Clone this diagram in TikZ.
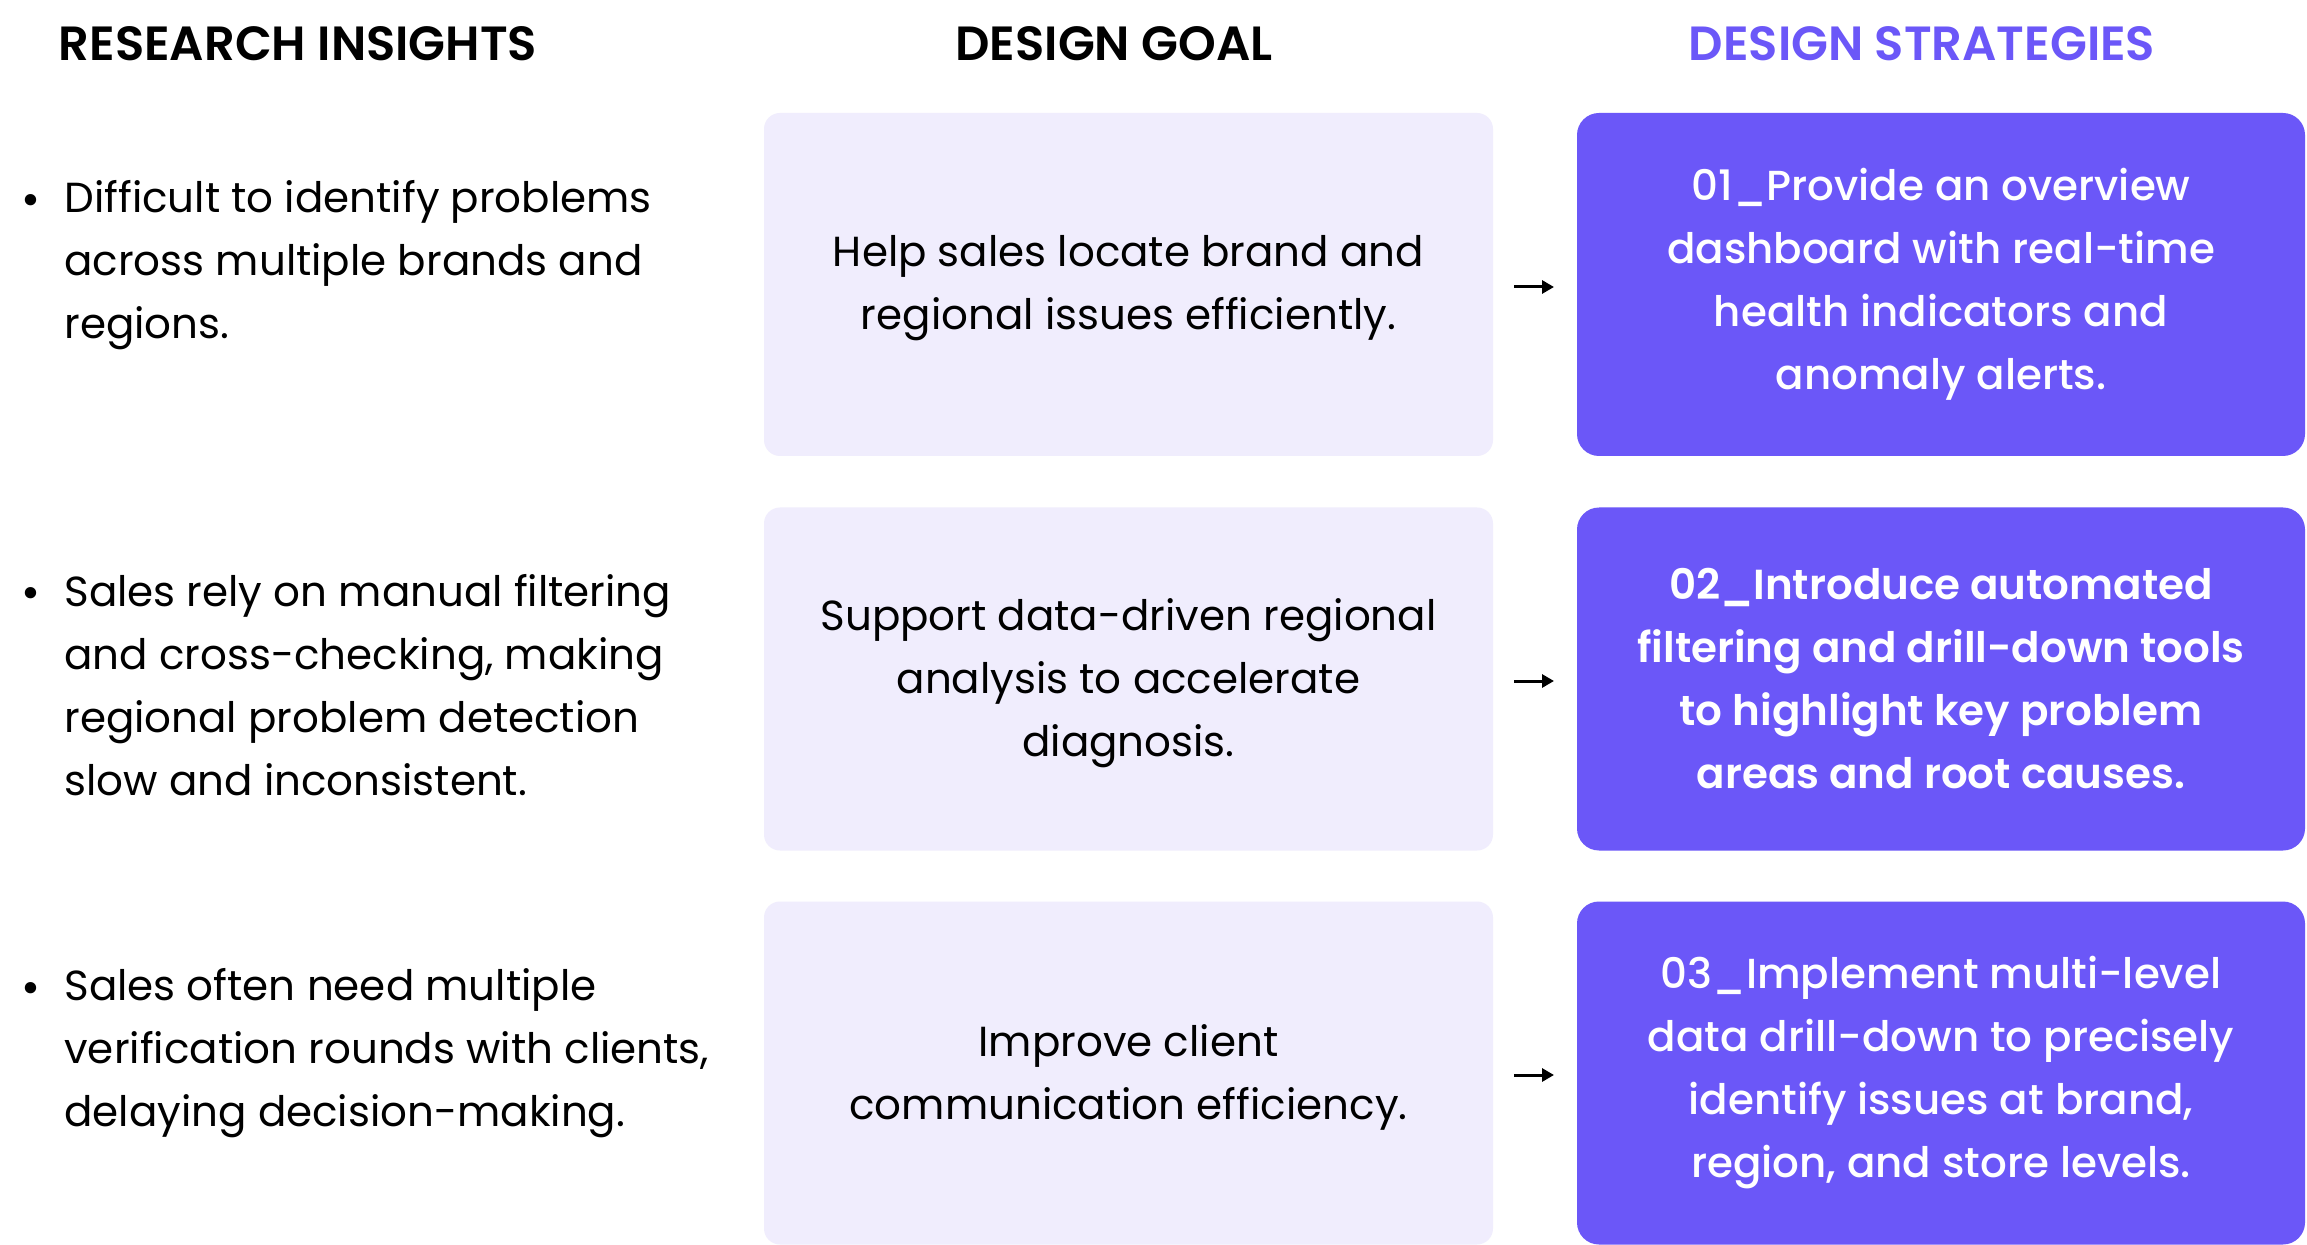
\documentclass[tikz,border=0pt]{standalone}
\usepackage{fontspec}
\setmainfont{Poppins}
\newfontfamily\popmed{Poppins Medium}
\newfontfamily\popsemi{Poppins SemiBold}
\usetikzlibrary{arrows.meta}
\definecolor{purp}{HTML}{6B57F8}
\definecolor{lav}{HTML}{F0EDFD}
\begin{document}
\begin{tikzpicture}[x=0.5pt,y=-0.5pt,
  header/.style={font=\popsemi\fontsize{24}{28}\selectfont, inner sep=0pt},
  body/.style={font=\fontsize{21}{31.5}\selectfont, inner sep=0pt},
  lefttext/.style={body, align=left, anchor=west},
  bulletmark/.style={font=\fontsize{23}{28}\selectfont, inner sep=0pt},
  goalbox/.style={body, fill=lav, rounded corners=8pt, minimum width=364.5pt, minimum height=171.5pt, align=center, text=black},
  goaltext/.style={body, align=center, text=black},
  stratbox/.style={font=\popmed\fontsize{21}{31.5}\selectfont, inner sep=0pt, fill=purp, rounded corners=11pt, minimum width=364pt, minimum height=171.5pt, align=center, text=white},
  flow/.style={line width=1.5pt, -{Triangle[length=6pt,width=6.5pt]}}
]
\useasboundingbox (0,0) rectangle (2307,1245);
\fill[white] (0,0) rectangle (2307,1245);

% headers
\node[header] (h1) at (298,44) {RESEARCH INSIGHTS};
\node[header] (h2) at (1114,44) {DESIGN GOAL};
\node[header, text=purp] (h3) at (1922,44) {DESIGN STRATEGIES};

% left column
\node[bulletmark] (b1) at (31,205) {•};
\node[lefttext] (l1) at (64,265) {Difficult to identify problems\\across multiple brands and\\regions.};
\node[bulletmark] (b2) at (31,598) {•};
\node[lefttext] (l2) at (64,685) {Sales rely on manual filtering\\and cross-checking, making\\regional problem detection\\slow and inconsistent.};
\node[bulletmark] (b3) at (31,993) {•};
\node[lefttext] (l3) at (64,1053) {Sales often need multiple\\verification rounds with clients,\\delaying decision-making.};

% goal boxes
\node[goalbox] (g1) at (1128.5,284.5) {};
\node[goalbox] (g2) at (1128.5,679) {};
\node[goalbox] (g3) at (1128.5,1073) {};
\node[goaltext] (gt1) at (1128.5,288) {Help sales locate brand and\\regional issues efficiently.};
\node[goaltext] (gt2) at (1128.5,683) {Support data-driven regional\\analysis to accelerate\\diagnosis.};
\node[goaltext] (gt3) at (1128.5,1077) {Improve client\\communication efficiency.};

% strategy boxes
\node[stratbox] (s1) at (1941,284.5) {01\_Provide an overview\\dashboard with real-time\\health indicators and\\anomaly alerts.};
\node[stratbox, font=\popsemi\fontsize{21}{31.5}\selectfont] (s2) at (1941,679) {02\_Introduce automated\\filtering and drill-down tools\\to highlight key problem\\areas and root causes.};
\node[stratbox] (s3) at (1941,1073) {03\_Implement multi-level\\data drill-down to precisely\\identify issues at brand,\\region, and store levels.};

% arrows
\coordinate (a1s) at (1514,287); \coordinate (a1e) at (1554,287);
\coordinate (a2s) at (1514,681); \coordinate (a2e) at (1554,681);
\coordinate (a3s) at (1514,1075); \coordinate (a3e) at (1554,1075);
\draw[flow] (a1s) -- (a1e);
\draw[flow] (a2s) -- (a2e);
\draw[flow] (a3s) -- (a3e);
\end{tikzpicture}
\end{document}
